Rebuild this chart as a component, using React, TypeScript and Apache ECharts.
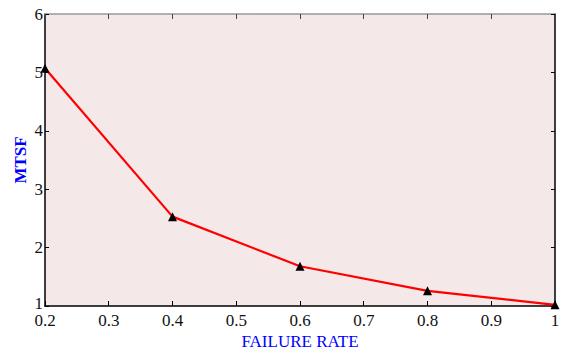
import React, { useEffect, useRef } from "react";
import * as echarts from "echarts";

const failureRate = [0.2, 0.4, 0.6, 0.8, 1.0];
const mtsf = [5.07, 2.53, 1.68, 1.26, 1.02];

const serif = "'Liberation Serif', 'Times New Roman', serif";

export default function App() {
  const ref = useRef<HTMLDivElement>(null);
  useEffect(() => {
    if (!ref.current) return;
    const chart = echarts.init(ref.current, null, { renderer: "svg" });
    const fmt = (v: number) => (Math.abs(v - 1) < 1e-9 ? "1" : (Math.round(v * 10) / 10).toFixed(1));
    chart.setOption({
      animation: false,
      textStyle: { fontFamily: serif },
      grid: { left: 45, right: 8, top: 14, bottom: 46, show: true, backgroundColor: "#f4e9e8", borderWidth: 0 },
      xAxis: [
        {
          type: "value",
          min: 0.2,
          max: 1,
          interval: 0.1,
          name: "FAILURE RATE",
          nameLocation: "middle",
          nameGap: 27,
          nameMoveOverlap: false,
          nameTextStyle: { color: "#0000ff", fontFamily: serif, fontSize: 17 },
          axisLine: { show: true, onZero: false, lineStyle: { color: "#000", width: 1.5 } },
          axisTick: { show: true, inside: true, length: 5, lineStyle: { color: "#000" } },
          axisLabel: { color: "#111", fontFamily: serif, fontSize: 17, margin: 6, formatter: fmt },
          splitLine: { show: false },
        },
        {
          type: "value",
          position: "top",
          min: 0.2,
          max: 1,
          interval: 0.1,
          axisLine: { show: true, onZero: false, lineStyle: { color: "#999", width: 1.5 } },
          axisTick: { show: true, inside: true, length: 5, lineStyle: { color: "#444" } },
          axisLabel: { show: false },
          splitLine: { show: false },
        },
      ],
      yAxis: [
        {
          type: "value",
          min: 1,
          max: 6,
          interval: 1,
          name: "MTSF",
          nameLocation: "middle",
          nameGap: 16,
          nameMoveOverlap: false,
          nameRotate: 90,
          nameTextStyle: { color: "#0000ff", fontFamily: serif, fontSize: 17, fontWeight: "bold" },
          axisLine: { show: true, onZero: false, lineStyle: { color: "#000", width: 1.5 } },
          axisTick: { show: true, inside: true, length: 4, lineStyle: { color: "#000" } },
          axisLabel: {
            color: "#111",
            fontFamily: serif,
            fontSize: 17,
            margin: 2,
            formatter: (v: number) => (v === 1 ? "{low|1}" : String(v)),
            rich: { low: { fontFamily: serif, fontSize: 17, color: "#111", padding: [0, 0, 6, 0] } },
          },
          splitLine: { show: false },
        },
        {
          type: "value",
          position: "right",
          min: 1,
          max: 6,
          interval: 1,
          axisLine: { show: true, onZero: false, lineStyle: { color: "#000", width: 1.5 } },
          axisTick: { show: true, inside: true, length: 4, lineStyle: { color: "#000" } },
          axisLabel: { show: false },
          splitLine: { show: false },
        },
      ],
      series: [
        {
          type: "line",
          data: failureRate.map((x, i) => [x, mtsf[i]]),
          lineStyle: { color: "#ff0000", width: 2.2 },
          itemStyle: { color: "#000" },
          symbol: "triangle",
          symbolSize: 9,
          clip: false,
          z: 5,
        },
      ],
    });
    return () => chart.dispose();
  }, []);
  return <div ref={ref} style={{ width: 563, height: 355, position: "absolute", left: 0, top: 0 }} />;
}
